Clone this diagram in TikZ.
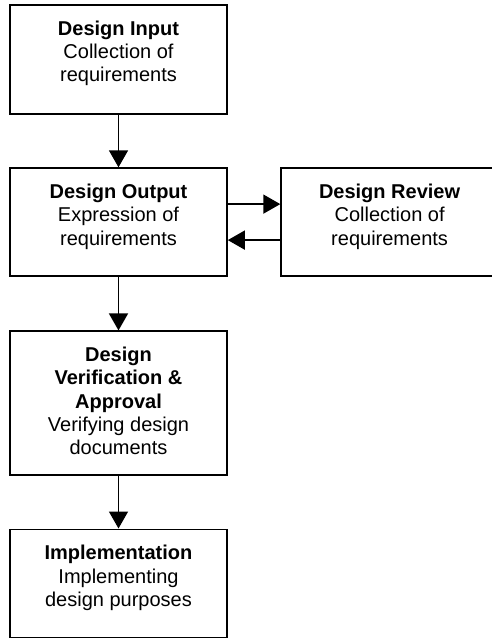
\documentclass[tikz,border=0pt]{standalone}
\usepackage{fontspec}
\setmainfont{Liberation Sans}
\usetikzlibrary{positioning,arrows.meta}

\begin{document}
\begin{tikzpicture}[x=1pt, y=1pt]
  \tikzstyle{stage} = [rectangle, draw, line width=1.6pt, minimum width=217pt,
                       minimum height=108pt, inner sep=0pt]
  \tikzstyle{stagetext} = [anchor=north, align=center, inner sep=0pt, yshift=-16.5pt,
                           font=\fontsize{20}{23.3}\selectfont]
  \tikzstyle{flow} = [-{Triangle[width=19pt,length=17pt]}, line width=1.6pt]

\useasboundingbox (0,0) rectangle (491,-638);

\node[stage, minimum height=109pt, label={[stagetext, name=inputtxt]north:{\textbf{Design Input}\\Collection of\\requirements}}] (input) at (118.5,-59.5) {};
\node[stage, below=52.5pt of input, label={[stagetext, name=outputtxt]north:{\textbf{Design Output}\\Expression of\\requirements}}] (output) {};
\node[stage, right=52.5pt of output, label={[stagetext, name=reviewtxt]north:{\textbf{Design Review}\\Collection of\\requirements}}] (review) {};
\node[stage, below=53.5pt of output, minimum height=144pt, label={[stagetext, name=verifytxt]north:{\textbf{Design}\\\textbf{Verification \&}\\\textbf{Approval}\\Verifying design\\documents}}] (verify) {};
\node[stage, below=52.5pt of verify, label={[stagetext, name=impltxt]north:{\textbf{Implementation}\\Implementing\\design purposes}}] (impl) {};

\draw[flow] (input) -- (output);
\draw[flow] ([yshift=18pt]output.east) -- ([yshift=18pt]review.west);
\draw[flow] ([yshift=-18pt]review.west) -- ([yshift=-18pt]output.east);
\draw[flow] (output) -- (verify);
\draw[flow] (verify) -- (impl);
\end{tikzpicture}
\end{document}
